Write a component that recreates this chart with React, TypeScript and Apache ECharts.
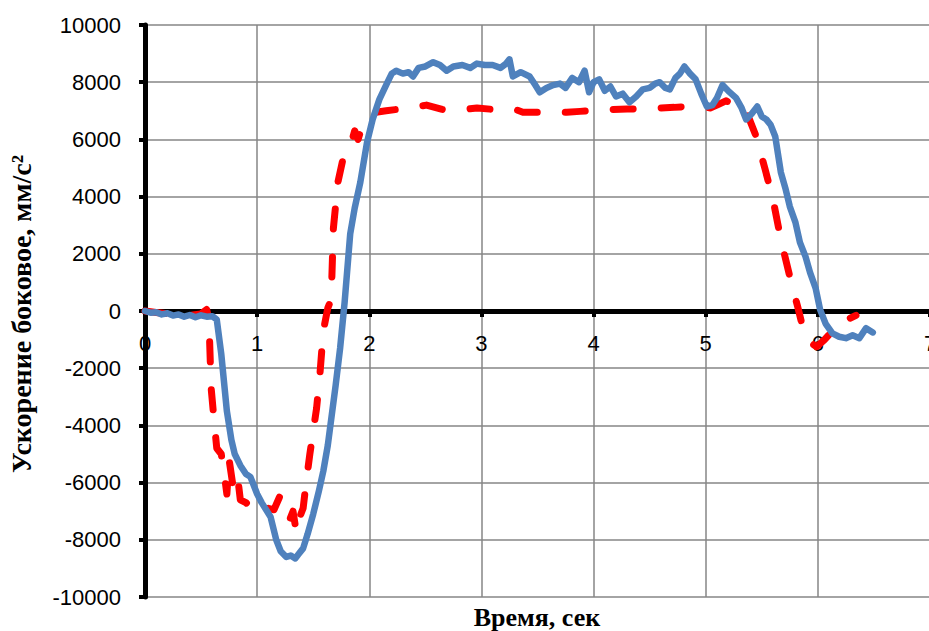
import React, { useEffect, useRef } from "react";
import * as echarts from "echarts";

const xTicks = [0, 1, 2, 3, 4, 5, 6, 7];
const yTicks = [-10000, -8000, -6000, -4000, -2000, 0, 2000, 4000, 6000, 8000, 10000];

const blueT = [0, 0.05, 0.1, 0.15, 0.2, 0.25, 0.3, 0.35, 0.4, 0.45, 0.5, 0.55, 0.6, 0.64, 0.68, 0.73, 0.77, 0.8, 0.85, 0.9, 0.94, 1.0, 1.04, 1.08, 1.12, 1.17, 1.21, 1.26, 1.3, 1.34, 1.37, 1.41, 1.45, 1.5, 1.55, 1.59, 1.63, 1.66, 1.7, 1.74, 1.78, 1.83, 1.87, 1.92, 1.98, 2.03, 2.09, 2.15, 2.2, 2.24, 2.3, 2.35, 2.39, 2.44, 2.5, 2.57, 2.63, 2.69, 2.75, 2.83, 2.9, 2.96, 3.03, 3.1, 3.17, 3.22, 3.25, 3.28, 3.35, 3.43, 3.48, 3.52, 3.58, 3.64, 3.7, 3.75, 3.81, 3.87, 3.92, 3.96, 4.0, 4.05, 4.1, 4.15, 4.2, 4.26, 4.32, 4.38, 4.44, 4.5, 4.55, 4.59, 4.64, 4.68, 4.73, 4.77, 4.81, 4.86, 4.91, 4.96, 5.01, 5.06, 5.1, 5.15, 5.2, 5.27, 5.32, 5.36, 5.41, 5.46, 5.5, 5.54, 5.58, 5.62, 5.67, 5.71, 5.75, 5.8, 5.84, 5.89, 5.93, 5.98, 6.02, 6.07, 6.13, 6.19, 6.25, 6.31, 6.37, 6.43, 6.49];
const blueV = [0, -60, -40, -120, -80, -160, -120, -200, -140, -220, -150, -200, -180, -300, -1500, -3500, -4500, -5000, -5400, -5700, -5800, -6400, -6700, -6950, -7200, -8000, -8400, -8600, -8550, -8650, -8500, -8300, -7800, -7100, -6300, -5600, -4700, -3800, -2600, -1300, 300, 2700, 3600, 4500, 5900, 6700, 7400, 7900, 8300, 8400, 8300, 8350, 8200, 8500, 8550, 8700, 8600, 8400, 8550, 8600, 8500, 8650, 8600, 8600, 8500, 8650, 8800, 8200, 8350, 8200, 7900, 7650, 7800, 7900, 7950, 7800, 8150, 8000, 8400, 7650, 8000, 8100, 7700, 7850, 7500, 7600, 7300, 7500, 7750, 7800, 7950, 8000, 7800, 7750, 8150, 8300, 8550, 8300, 8100, 7600, 7150, 7200, 7450, 7900, 7700, 7450, 7100, 6700, 6900, 7150, 6800, 6700, 6500, 6100, 4850, 4300, 3650, 3100, 2400, 1900, 1350, 800, 50, -450, -780, -900, -950, -850, -950, -600, -750];

const redT = [0, 0.1, 0.2, 0.3, 0.4, 0.5, 0.55, 0.57, 0.59, 0.62, 0.64, 0.68, 0.71, 0.73, 0.75, 0.78, 0.82, 0.85, 0.9, 0.94, 1.0, 1.05, 1.1, 1.15, 1.2, 1.24, 1.29, 1.32, 1.35, 1.38, 1.41, 1.44, 1.47, 1.5, 1.53, 1.56, 1.59, 1.63, 1.66, 1.68, 1.72, 1.77, 1.83, 1.87, 1.9, 1.94, 1.98, 2.06, 2.15, 2.25, 2.36, 2.51, 2.65, 2.75, 2.85, 2.96, 3.1, 3.22, 3.3, 3.37, 3.5, 3.64, 3.76, 3.88, 4.0, 4.11, 4.3, 4.45, 4.59, 4.72, 4.83, 4.95, 5.04, 5.1, 5.18, 5.24, 5.3, 5.35, 5.39, 5.45, 5.53, 5.6, 5.67, 5.75, 5.82, 5.87, 5.93, 5.99, 6.06, 6.13, 6.24, 6.34];
const redV = [0, -50, -100, -120, -150, -100, 50, -300, -2700, -4000, -4800, -5000, -5800, -6400, -5200, -6000, -5600, -6600, -6700, -6850, -6800, -7050, -6900, -6950, -6500, -7100, -7300, -7000, -7750, -7200, -6900, -5900, -5000, -4200, -3400, -2200, -700, 100, 400, 2900, 4500, 5400, 5750, 6300, 6000, 6500, 6600, 6950, 7000, 7050, 7100, 7200, 7050, 7000, 7050, 7100, 7050, 7100, 7050, 6950, 6950, 6950, 6950, 6980, 7020, 7040, 7060, 7080, 7100, 7120, 7150, 7120, 7100, 7200, 7350, 7250, 7280, 7000, 6700, 6100, 4950, 3900, 2500, 1200, 150, -650, -1100, -1250, -1000, -700, -350, -150];

const xTitle = "Время, сек";
const yTitle = "Ускорение боковое, мм/с²";

export default function App() {
  const ref = useRef<HTMLDivElement>(null);
  useEffect(() => {
    document.body.style.margin = "0";
    const chart = echarts.init(ref.current!, null, { renderer: "svg" });
    const labelFont = "'Liberation Sans', Arial, sans-serif";
    const titleFont = "'Liberation Serif', 'Times New Roman', serif";
    const gridTop = 25;
    const gridBottom = 34;
    const gridH = 631 - gridTop - gridBottom;
    chart.setOption({
      animation: false,
      backgroundColor: "#ffffff",
      grid: {
        left: 145,
        right: -1,
        top: gridTop,
        bottom: gridBottom,
        containLabel: false,
        outerBoundsMode: "none",
      },
      xAxis: {
        type: "value",
        min: xTicks[0],
        max: xTicks[xTicks.length - 1],
        interval: 1,
        position: "bottom",
        offset: -gridH / 2,
        axisLine: { show: true, onZero: false, lineStyle: { color: "#000", width: 5 } },
        axisTick: { show: true, length: 6, lineStyle: { color: "#000", width: 4 } },
        axisLabel: {
          color: "#000",
          fontSize: 22,
          fontFamily: labelFont,
          margin: 21,
          formatter: (v: number) => String(v),
        },
        splitLine: { show: true, lineStyle: { color: "#868686", width: 1.5 } },
      },
      yAxis: {
        type: "value",
        min: yTicks[0],
        max: yTicks[yTicks.length - 1],
        interval: 2000,
        axisLine: { show: true, onZero: false, lineStyle: { color: "#000", width: 5 } },
        axisTick: { show: true, length: 6, lineStyle: { color: "#000", width: 4 } },
        axisLabel: {
          color: "#000",
          fontSize: 22,
          fontFamily: labelFont,
          margin: 24,
          formatter: (v: number) => String(v),
        },
        splitLine: { show: true, lineStyle: { color: "#868686", width: 1.5 } },
      },
      graphic: [
        {
          type: "text",
          x: 537,
          y: 617,
          style: {
            text: xTitle,
            fill: "#000",
            font: `bold 26px ${titleFont}`,
            align: "center",
            verticalAlign: "middle",
          },
        },
        {
          type: "text",
          x: 21,
          y: 314,
          rotation: Math.PI / 2,
          style: {
            text: yTitle,
            fill: "#000",
            font: `bold 28px ${titleFont}`,
            align: "center",
            verticalAlign: "middle",
          },
        },
      ],
      series: [
        {
          type: "line",
          data: redT.map((t, i) => [t, redV[i]]),
          showSymbol: false,
          symbol: "none",
          lineStyle: { color: "#ff0000", width: 7, type: [20, 28], cap: "round", join: "round" },
          z: 3,
        },
        {
          type: "line",
          data: blueT.map((t, i) => [t, blueV[i]]),
          showSymbol: false,
          symbol: "none",
          lineStyle: { color: "#4f81bd", width: 6.5, type: "solid", cap: "round", join: "round" },
          z: 4,
        },
      ],
    });
    return () => chart.dispose();
  }, []);
  return <div ref={ref} style={{ width: 929, height: 631 }} />;
}
